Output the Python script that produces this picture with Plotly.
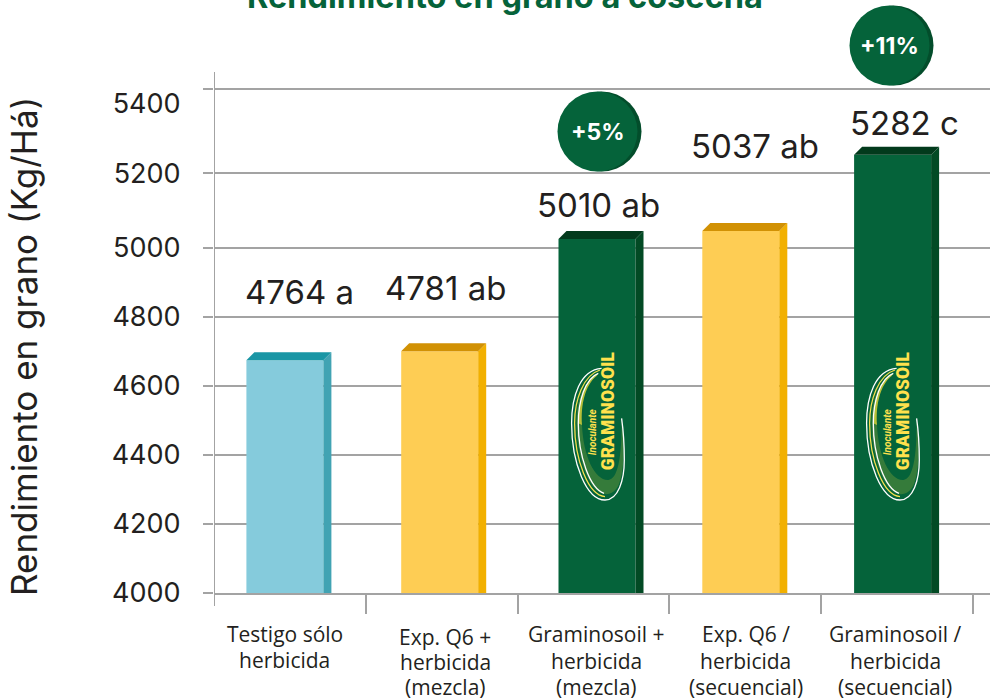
import plotly.graph_objects as go

# --- data ---
categories = [["Testigo sólo", "herbicida"],
              ["Exp. Q6 +", "herbicida", "(mezcla)"],
              ["Graminosoil +", "herbicida", "(mezcla)"],
              ["Exp. Q6 /", "herbicida", "(secuencial)"],
              ["Graminosoil /", "herbicida", "(secuencial)"]]
bar_values = [4675, 4701, 5026, 5049, 5270]
value_labels = ["4764 a", "4781 ab", "5010 ab", "5037 ab", "5282 c"]
tick_values = [4000, 4200, 4400, 4600, 4800, 5000, 5217, 5420]
tick_labels = ["4000", "4200", "4400", "4600", "4800", "5000", "5200", "5400"]
grid_values = [4000, 4200, 4400, 4600, 4800, 5000, 5217, 5461]
badges = ["+5%", "+11%"]
front_colors = ["#85CBDC", "#FECD54", "#05633A", "#FECD54", "#05633A"]
side_colors = ["#41A3B3", "#F2B000", "#024A24", "#F2B000", "#024A24"]
top_colors = ["#1A96A5", "#D19104", "#023A1C", "#D19104", "#023A1C"]

# --- layout geometry ---
W, H = 990, 699
L, T, B = 214, 0, 593
AXIS_TOP = 72
PX_X = 151.8   # px per category
PX_Y = 69 / 200  # px per yield unit
xr = [-0.5, -0.5 + (W - L) / PX_X]
yr = [4000, 4000 + (B - T) / PX_Y]
fx = lambda px: -0.5 + (px - L) / PX_X
fy = lambda py: 4000 + (B - py) / PX_Y
BAR_W = 77 / PX_X
DX, DY = 8 / PX_X, 8 / PX_Y
bar_shift = [-5 / PX_X, -2 / PX_X, 3.5 / PX_X, -4.5 / PX_X, -4.5 / PX_X]
xs = list(range(len(bar_values)))
GRID = "#A3A3A3"
INK = "#231F20"
GREEN = "#05633A"

fig = go.Figure()
fig.add_trace(go.Bar(x=xs, y=bar_values, width=BAR_W,
                     offset=[s - BAR_W / 2 for s in bar_shift],
                     marker=dict(color=front_colors, line_width=0),
                     hoverinfo="skip", showlegend=False))
for x, v, s, sc, tc in zip(xs, bar_values, bar_shift, side_colors, top_colors):
    left, right = x + s - BAR_W / 2, x + s + BAR_W / 2
    fig.add_trace(go.Scatter(x=[right, right + DX, right + DX, right, right],
                             y=[v, v + DY, 4000, 4000, v], mode="lines", fill="toself",
                             fillcolor=sc, line=dict(width=0), hoverinfo="skip", showlegend=False))
    fig.add_trace(go.Scatter(x=[left, left + DX, right + DX, right, left],
                             y=[v, v + DY, v + DY, v, v], mode="lines", fill="toself",
                             fillcolor=tc, line=dict(width=0), hoverinfo="skip", showlegend=False))

# badges: dark disc behind, lighter disc in front
badge_pos = [(597.5, 131.5), (889.5, 45.5)]
fig.add_trace(go.Scatter(x=[fx(p[0] + 4) for p in badge_pos], y=[fy(p[1]) for p in badge_pos],
                         mode="markers", cliponaxis=False, hoverinfo="skip", showlegend=False,
                         marker=dict(size=80, color="#034D2B", line_width=0)))
fig.add_trace(go.Scatter(x=[fx(p[0]) for p in badge_pos], y=[fy(p[1]) for p in badge_pos],
                         mode="markers", cliponaxis=False, hoverinfo="skip", showlegend=False,
                         marker=dict(size=80, color=GREEN, line_width=0)))

anns = []
for t, (px, py) in zip(badges, badge_pos):
    anns.append(dict(x=fx(px), y=fy(py), xref="x", yref="y", text=t, showarrow=False,
                     xanchor="center", yanchor="middle",
                     font=dict(family="Inter", size=23, color="white", weight=700)))
# value labels
label_pos = [(299, 292), (445, 288), (598, 205), (755, 146), (904, 123)]
for t, (px, py) in zip(value_labels, label_pos):
    anns.append(dict(x=fx(px), y=fy(py), xref="x", yref="y", text=t, showarrow=False,
                     xanchor="center", yanchor="middle",
                     font=dict(family="Inter", size=33, color=INK)))
# category labels, one annotation per line for exact leading
cat_x = [284.5, 445, 596, 745.5, 895]
cat_y = [[634, 660], [637, 662, 687], [634, 661, 687], [634, 661, 687], [634, 661, 687]]
for lines, px, pys in zip(categories, cat_x, cat_y):
    for line, py in zip(lines, pys):
        anns.append(dict(x=fx(px), y=0, xref="x", yref="paper", yshift=B - py, text=line,
                         showarrow=False, xanchor="center", yanchor="middle",
                         font=dict(family="Open Sans", size=21, color=INK)))
# title (cropped by the top of the page)
anns.append(dict(x=fx(505), y=1, xref="x", yref="paper", yshift=4, text="Rendimiento en grano a cosecha",
                 showarrow=False, xanchor="center", yanchor="middle",
                 font=dict(family="Inter", size=32.5, color=GREEN, weight=700)))
# y axis title
anns.append(dict(x=0, xshift=24 - L, y=fy(347), xref="paper", yref="y", text="Rendimiento en grano (Kg/Há)",
                 showarrow=False, textangle=-90, xanchor="center", yanchor="middle",
                 font=dict(family="Inter", size=35, color=INK)))

shapes = []
# swoosh logo on the two Graminosoil bars, coordinates in px about an anchor
def path(cmds):
    out = []
    for c in cmds:
        if isinstance(c, str):
            out.append(c)
        else:
            out.append(f"{(c[0] - 205) / 3:.1f},{-(c[1] - 340) / 3:.1f}")
    return " ".join(out)

crescent = path(["M", (200, 168), "C", (165, 195), (152, 255), (156, 315), "C", (160, 410), (195, 482), (235, 480),
                 "C", (262, 478), (276, 420), (275, 295), "C", (284, 370), (285, 440), (268, 490), "C", (255, 525), (225, 530), (205, 515),
                 "C", (170, 490), (140, 400), (140, 310), "C", (140, 240), (160, 185), (200, 168), "Z"])
band = path(["M", (205, 160), "C", (165, 175), (145, 245), (145, 310), "L", (156, 315),
             "C", (152, 255), (165, 195), (200, 168), "Z"])
swooshes = [
    (path(["M", (215, 145), "C", (150, 150), (125, 230), (125, 310), "C", (125, 430), (170, 540), (225, 540),
           "C", (265, 540), (283, 480), (283, 420), "C", (283, 370), (280, 330), (275, 295)]), "#FFFFFF"),
    (path(["M", (210, 150), "C", (160, 165), (134, 240), (134, 310), "C", (134, 420), (175, 527), (225, 530)]), "#F4E04D"),
    (path(["M", (205, 160), "C", (165, 175), (145, 245), (145, 310), "C", (145, 410), (180, 505), (222, 520)]), "#FFFFFF"),
]
for px_center in [598.3, 893.3]:
    common = dict(type="path", xsizemode="pixel", ysizemode="pixel", xref="x", yref="y",
                  xanchor=fx(px_center), yanchor=fy(433.3), layer="above")
    shapes.append(dict(path=crescent, fillcolor="#5C8F3A", opacity=0.55, line_width=0, **common))
    shapes.append(dict(path=band, fillcolor="#D8D23A", opacity=0.8, line_width=0, **common))
    for p, col in swooshes:
        shapes.append(dict(path=p, line=dict(color=col, width=1.3), fillcolor="rgba(0,0,0,0)", **common))
    anns.append(dict(x=fx(px_center + 10), y=fy(411), xref="x", yref="y", text="GRAMINOSOIL", textangle=-90,
                     showarrow=False, font=dict(family="Roboto", size=17.5, color="#FFE14D", weight=900)))
    anns.append(dict(x=fx(px_center - 6), y=fy(432), xref="x", yref="y", text="<i>Inoculante</i>", textangle=-90,
                     showarrow=False, font=dict(family="Roboto", size=10, color="#FFE14D", weight=700)))

# short first x tick and the y axis stem, which stops below the top of the plot
shapes.append(dict(type="line", xref="x", yref="paper", ysizemode="pixel", yanchor=0,
                   x0=-0.5, x1=-0.5, y0=0, y1=-13, line=dict(color=GRID, width=2)))
shapes.append(dict(type="line", xref="x", yref="y", x0=-0.5, x1=-0.5, y0=4000, y1=fy(AXIS_TOP),
                   line=dict(color=GRID, width=2)))

fig.update_layout(
    width=W, height=H, autosize=False, margin=dict(l=L, r=0, t=T, b=H - B, pad=0),
    paper_bgcolor="white", plot_bgcolor="white", showlegend=False,
    annotations=anns, shapes=shapes,
    xaxis=dict(range=xr, showgrid=False, zeroline=False, showticklabels=False,
               tickmode="array", tickvals=[], ticks="",
               showline=True, linecolor=GRID, linewidth=2,
               minor=dict(tickmode="array", tickvals=[0.5, 1.5, 2.5, 3.5, 4.5], ticks="outside",
                          ticklen=19, tickwidth=2, tickcolor=GRID, showgrid=False)),
    yaxis=dict(range=yr, zeroline=False, showgrid=False, showline=False,
               tickmode="array", tickvals=tick_values, ticktext=tick_labels, ticks="outside",
               ticklen=27, tickcolor="rgba(0,0,0,0)", tickwidth=0,
               tickfont=dict(family="Inter", size=27, color=INK),
               minor=dict(tickmode="array", tickvals=grid_values, ticks="outside", ticklen=10, tickwidth=2,
                          tickcolor=GRID, showgrid=True, gridcolor=GRID, gridwidth=2)),
)
fig.write_html("out.html", post_script="document.body.style.margin='0';",
               config=dict(displayModeBar=False))
